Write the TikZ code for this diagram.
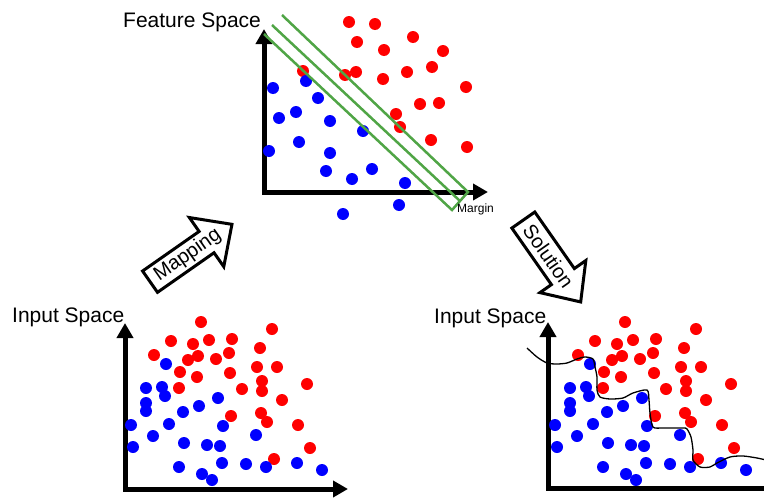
\documentclass[tikz,border=0pt]{standalone}
\usepackage{fontspec}
\setmainfont{Liberation Sans}
\usetikzlibrary{arrows.meta}
\definecolor{mgreen}{RGB}{80,165,70}
\definecolor{dred}{RGB}{255,0,0}
\definecolor{dblue}{RGB}{0,0,255}
\newcommand\myInputDots{%
  \foreach \p in {(201,322),(272,329),(171,341),(193,344),(209,340),(232,339),(154,355),(188,360),(198,356),(216,359),(229,353),(260,348),(180,372),(197,377),(230,373),(257,367),(277,367),(262,381),(307,384),(179,388),(242,389),(262,391),(282,400),(231,416),(261,413),(267,422),(298,425),(310,448),(274,459)}
    {\fill[dred] \p circle (6pt);}
  \foreach \p in {(166,364),(146,388),(162,387),(165,396),(146,403),(146,411),(218,398),(199,406),(183,412),(131,425),(169,424),(223,426),(153,436),(256,435),(133,447),(184,443),(207,445),(220,446),(179,467),(222,463),(246,464),(266,467),(297,463),(322,470),(202,474),(212,480)}
    {\fill[dblue] \p circle (6pt);}
}
\begin{document}
\begin{tikzpicture}[x=1pt,y=-1pt,
  axis/.style={line width=5pt, line join=miter, {Triangle[length=15pt,width=16pt]}-{Triangle[length=15pt,width=16pt]}},
  margin/.style={draw=mgreen, line width=2.5pt, line join=miter},
  bigarrow/.style={draw=black, line width=3pt, fill=white, line join=miter},
  lbl/.style={font=\fontsize{21}{25}\selectfont, inner sep=0pt},
  arrowtext/.style={font=\fontsize{20}{24}\selectfont, inner sep=0pt, transform shape},
  boundary/.style={draw=black, line width=1.3pt},
]
\useasboundingbox (0,0) rectangle (764,498);
\clip (0,0) rectangle (764,498);

% ---------- Feature space ----------
\draw[axis] (264,29) -- (264,192) -- (488,192);
\foreach \p in {(349,22),(375,24),(413,37),(357,42),(384,50),(443,51),(432,67),(407,72),(356,72),(345,75),(303,71),(383,79),(466,87),(420,104),(439,103),(396,114),(400,127),(431,140),(467,147)}
  {\fill[dred] \p circle (6pt);}
\foreach \p in {(273,88),(306,81),(318,98),(296,112),(279,118),(330,121),(363,131),(299,142),(269,151),(330,153),(326,171),(352,179),(372,169),(405,183),(399,205),(343,214)}
  {\fill[dblue] \p circle (6pt);}
\coordinate (m1s) at (282,15);
\coordinate (m2s) at (272,25);
\coordinate (m3s) at (264,34);
\coordinate (m1e) at (468,192);
\coordinate (m2e) at (460,201);
\coordinate (m3e) at (452,210);
\draw[margin] (m1s) -- (m1e) -- (m3e) -- (m3s);
\draw[margin] (m2s) -- (m2e);
\node[lbl, anchor=base west] (fs) at (123,27) {Feature Space};
\node[font=\fontsize{12}{14}\selectfont, inner sep=0pt, anchor=base west] (mg) at (457,212) {Margin};

% ---------- Input space (left) ----------
\draw[axis] (125,323) -- (125,489) -- (348,489);
\myInputDots
\node[lbl, anchor=base west] (is1) at (12,322) {Input Space};

% ---------- Input space (right) ----------
\draw[axis] (548,322) -- (548,488) -- (780,488);
\begin{scope}[shift={(424,0)}]
\myInputDots
\end{scope}
\draw[boundary] plot[smooth, tension=0.45] coordinates {(527,348) (537,357) (547,363) (557,364) (567,363) (577,359) (585,357) (593,359) (595,367) (597,377) (597,390) (600,397) (610,399) (623,398) (633,393) (647,390) (649,400) (650,413) (653,427) (663,428) (683,428) (687,429) (691,437) (693,450) (693,460) (700,467) (710,467) (717,463) (730,457) (743,456) (757,458) (766,460)};
\node[lbl, anchor=base west] (is2) at (434,323) {Input Space};

% ---------- Big arrows ----------
\begin{scope}[shift={(191,253)}, rotate=35]
  \draw[bigarrow] (-50,-13) -- (19,-13) -- (19,-30) -- (50,0) -- (19,30) -- (19,13) -- (-50,13) -- cycle;
  \node[arrowtext] (mapping) at (-4,0) {Mapping};
\end{scope}
\begin{scope}[shift={(552,261)}, rotate=-55]
  \draw[bigarrow] (-50,-14) -- (19,-14) -- (19,-28) -- (50,0) -- (19,28) -- (19,14) -- (-50,14) -- cycle;
  \node[arrowtext] (solution) at (-6,0) {Solution};
\end{scope}
\end{tikzpicture}
\end{document}
